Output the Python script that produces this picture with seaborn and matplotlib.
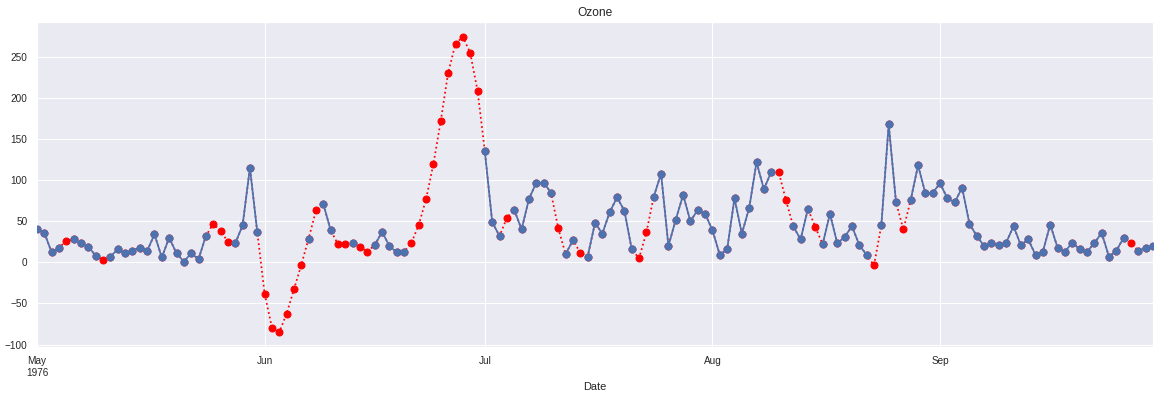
import numpy as np
import pandas as pd
import matplotlib
matplotlib.use("Agg")
import matplotlib.pyplot as plt
import seaborn as sns

nan = np.nan

# Observed daily Ozone (NaN = missing), May-Sep 1976
may_obs = [41, 36, 12, 18, nan, 28, 23, 19, 8, nan, 7, 16, 11, 14, 18, 14, 34, 6, 30, 11,
           1, 11, 4, 32, nan, nan, nan, 23, 45, 115, 37]
jun_obs = [nan, nan, nan, nan, nan, nan, 29, nan, 71, 39, nan, nan, 23, nan, nan, 21, 37, 20, 12, 13,
           nan, nan, nan, nan, nan, nan, nan, nan, nan, nan]
jul_obs = [135, 49, 32, nan, 64, 40, 77, 97, 97, 85, nan, 10, 27, nan, 7, 48, 35, 61, 79, 63,
           16, nan, nan, 80, 108, 20, 52, 82, 50, 64, 59]
aug_obs = [39, 9, 16, 78, 35, 66, 122, 89, 110, nan, nan, 44, 28, 65, nan, 22, 59, 23, 31, 44,
           21, 9, nan, 45, 168, 73, nan, 76, 118, 84, 85]
sep_obs = [96, 78, 73, 91, 47, 32, 20, 23, 21, 24, 44, 21, 28, 9, 13, 46, 18, 13, 24, 16,
           13, 23, 36, 7, 14, 30, nan, 14, 18, 20]

# Filled (interpolated) series
may_fill = [41, 36, 12, 18, 26, 28, 23, 19, 8, 3, 7, 16, 11, 14, 18, 14, 34, 6, 30, 11,
            1, 11, 4, 32, 47, 38.5, 25, 23, 45, 115, 37]
jun_fill = [-38, -79.4, -85, -62.3, -32.8, -2.8, 29, 63.2, 71, 39, 21.9, 22.7, 23, 19, 13, 21, 37, 20, 12, 13,
            23.9, 45.7, 77.3, 120.2, 172.5, 230.8, 266, 274.5, 255, 209]
jul_fill = [135, 49, 32, 54.3, 64, 40, 77, 97, 97, 85, 41.3, 10, 27, 11.7, 7, 48, 35, 61, 79, 63,
            16, 4.9, 36.4, 80, 108, 20, 52, 82, 50, 64, 59]
aug_fill = [39, 9, 16, 78, 35, 66, 122, 89, 110, 110.5, 76, 44, 28, 65, 43.3, 22, 59, 23, 31, 44,
            21, 9, -3.6, 45, 168, 73, 40, 76, 118, 84, 85]
sep_fill = [96, 78, 73, 91, 47, 32, 20, 23, 21, 24, 44, 21, 28, 9, 13, 46, 18, 13, 24, 16,
            13, 23, 36, 7, 14, 30, 23.9, 14, 18, 20]

tick_dates = ["1976-05-01", "1976-06-01", "1976-07-01", "1976-08-01", "1976-09-01"]
tick_labels = ["May\n1976", "Jun", "Jul", "Aug", "Sep"]

observed = may_obs + jun_obs + jul_obs + aug_obs + sep_obs
filled = may_fill + jun_fill + jul_fill + aug_fill + sep_fill
dates = pd.date_range("1976-05-01", periods=len(observed), freq="D")

sns.set_theme(style="darkgrid", rc={
    "xtick.labelsize": 10, "ytick.labelsize": 10,
    "axes.labelsize": 11, "axes.titlesize": 12,
    "grid.linewidth": 1.0,
})
plt.rcParams["font.family"] = ["Liberation Sans", "DejaVu Sans"]

fig = plt.figure(figsize=(1160 / 72, 398 / 72), dpi=72)
ax = fig.add_axes([37 / 1160, 1 - 347 / 398, (1153 - 37) / 1160, (347 - 22) / 398])

df_fill = pd.DataFrame({"Date": dates, "Ozone": filled})
sns.lineplot(data=df_fill, x="Date", y="Ozone", ax=ax, color="red", linestyle=":",
             linewidth=1.75, marker="o", markersize=7, markeredgecolor="red",
             markeredgewidth=1, zorder=2)

df_obs = pd.DataFrame({"Date": dates, "Ozone": observed})
df_obs["seg"] = df_obs["Ozone"].isna().cumsum()
df_obs = df_obs.dropna()
sns.lineplot(data=df_obs, x="Date", y="Ozone", units="seg", estimator=None, ax=ax,
             color="#4C72B0", linewidth=1.75, marker="o", markersize=7,
             markeredgecolor="#4C72B0", markeredgewidth=1, zorder=3)

ax.set_xlim(dates[0], dates[-1])
ax.set_ylim(-103, 292.5)
ax.set_xticks(pd.to_datetime(tick_dates))
ax.set_xticklabels(tick_labels)
ax.minorticks_off()
ax.set_title("Ozone")
ax.set_xlabel("Date")
ax.set_ylabel("")

fig.savefig("out.png", dpi=72)
